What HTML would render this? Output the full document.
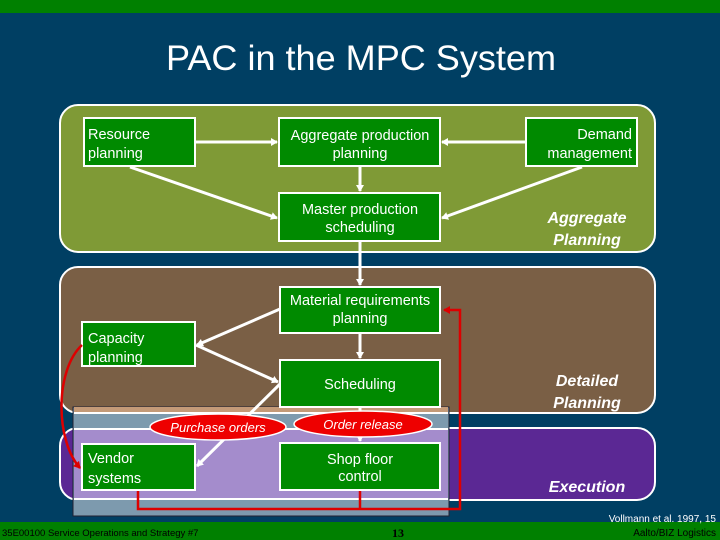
<!DOCTYPE html>
<html><head><style>
body{margin:0;width:720px;height:540px;overflow:hidden;background:#003f63}
svg{display:block}
text{font-family:"Liberation Sans",sans-serif}
</style></head><body>
<svg width="720" height="540" viewBox="0 0 720 540">
<defs>
<marker id="w" markerWidth="8" markerHeight="8" refX="6" refY="4" orient="auto" markerUnits="userSpaceOnUse"><path d="M0,0 L7,4 L0,8 Z" fill="#fff"/></marker>
<marker id="r" markerWidth="8" markerHeight="8" refX="6" refY="4" orient="auto" markerUnits="userSpaceOnUse"><path d="M0,0 L7,4 L0,8 Z" fill="#d00"/></marker>
</defs>
<rect x="0" y="0" width="720" height="540" fill="#003f63"/>
<rect x="0" y="0" width="720" height="13" fill="#008000"/>
<rect x="0" y="522" width="720" height="18" fill="#008000"/>
<text x="361" y="70" font-size="35" fill="#fff" text-anchor="middle" textLength="390" lengthAdjust="spacingAndGlyphs">PAC in the MPC System</text>

<rect x="60" y="105" width="595" height="147" rx="18" fill="#7f9a36" stroke="#fff" stroke-width="2"/>
<rect x="60" y="267" width="595" height="146" rx="18" fill="#7a5f45" stroke="#fff" stroke-width="2"/>
<rect x="60" y="428" width="595" height="72" rx="18" fill="#5b2894" stroke="#fff" stroke-width="2"/>
<rect x="73" y="407" width="376" height="109" fill="#7d9aae" stroke="#223" stroke-width="1"/>
<rect x="74" y="407" width="374" height="6" fill="#c49a78"/>
<rect x="74" y="429" width="374" height="70" fill="#a48ccc"/>
<line x1="74" y1="413" x2="448" y2="413" stroke="#fff" stroke-width="2"/>
<line x1="74" y1="429" x2="448" y2="429" stroke="#fff" stroke-width="2"/>
<line x1="74" y1="499" x2="448" y2="499" stroke="#fff" stroke-width="2"/>

<g stroke="#fff" stroke-width="3" fill="none">
<line x1="196" y1="142" x2="277" y2="142" marker-end="url(#w)"/>
<line x1="525" y1="142" x2="442" y2="142" marker-end="url(#w)"/>
<line x1="360" y1="167" x2="360" y2="191" marker-end="url(#w)"/>
<line x1="130" y1="167" x2="277" y2="218" marker-end="url(#w)"/>
<line x1="582" y1="167" x2="442" y2="218" marker-end="url(#w)"/>
<line x1="360" y1="242" x2="360" y2="285" marker-end="url(#w)"/>
<line x1="280" y1="309" x2="197" y2="345" marker-end="url(#w)"/>
<line x1="196" y1="345" x2="278" y2="382" marker-end="url(#w)"/>
<line x1="360" y1="334" x2="360" y2="358" marker-end="url(#w)"/>
<line x1="281" y1="383" x2="197" y2="466" marker-end="url(#w)"/>
<line x1="360" y1="408" x2="360" y2="441" marker-end="url(#w)"/>
</g>

<g fill="#008a00" stroke="#fff" stroke-width="2">
<rect x="84" y="118" width="111" height="48"/>
<rect x="279" y="118" width="161" height="48"/>
<rect x="526" y="118" width="111" height="48"/>
<rect x="279" y="193" width="161" height="48"/>
<rect x="280" y="287" width="160" height="46"/>
<rect x="82" y="322" width="113" height="44"/>
<rect x="280" y="360" width="160" height="47"/>
<rect x="82" y="444" width="113" height="46"/>
<rect x="280" y="443" width="160" height="47"/>
</g>

<g stroke="#d00" stroke-width="2.5" fill="none">
<path d="M138,491 V509 H460 V310 H444" marker-end="url(#r)"/>
<line x1="360" y1="491" x2="360" y2="509"/>
<path d="M82,345 C55,370 55,440 80,468" marker-end="url(#r)"/>
</g>

<ellipse cx="218" cy="427" rx="68" ry="13" fill="#e00" stroke="#fff" stroke-width="1.5"/>
<ellipse cx="363" cy="424" rx="69" ry="13" fill="#e00" stroke="#fff" stroke-width="1.5"/>

<g fill="#fff" font-size="14.5">
<text x="88" y="139">Resource</text><text x="88" y="158">planning</text>
<text x="360" y="140" text-anchor="middle">Aggregate production</text><text x="360" y="158" text-anchor="middle">planning</text>
<text x="632" y="139" text-anchor="end">Demand</text><text x="632" y="158" text-anchor="end">management</text>
<text x="360" y="214" text-anchor="middle">Master production</text><text x="360" y="232" text-anchor="middle">scheduling</text>
<text x="360" y="305" text-anchor="middle">Material requirements</text><text x="360" y="323" text-anchor="middle">planning</text>
<text x="88" y="343">Capacity</text><text x="88" y="362">planning</text>
<text x="360" y="389" text-anchor="middle">Scheduling</text>
<text x="88" y="463">Vendor</text><text x="88" y="483">systems</text>
<text x="360" y="464" text-anchor="middle">Shop floor</text><text x="360" y="481" text-anchor="middle">control</text>
<text x="218" y="432" font-size="13" font-style="italic" text-anchor="middle">Purchase orders</text>
<text x="363" y="429" font-size="13" font-style="italic" text-anchor="middle">Order release</text>
</g>
<g fill="#fff" font-size="16" font-weight="bold" font-style="italic" text-anchor="middle">
<text x="587" y="223">Aggregate</text><text x="587" y="245">Planning</text>
<text x="587" y="386">Detailed</text><text x="587" y="408">Planning</text>
<text x="587" y="492">Execution</text>
</g>
<text x="2" y="536" font-size="9.5" fill="#000">35E00100 Service Operations and Strategy  #7</text>
<text x="398" y="537" font-size="12" font-weight="bold" fill="#000" text-anchor="middle" style="font-family:'Liberation Serif',serif">13</text>
<text x="716" y="522" font-size="10" fill="#fff" text-anchor="end">Vollmann et al. 1997, 15</text>
<text x="716" y="536" font-size="10" fill="#000" text-anchor="end">Aalto/BIZ Logistics</text>
</svg>
</body></html>
